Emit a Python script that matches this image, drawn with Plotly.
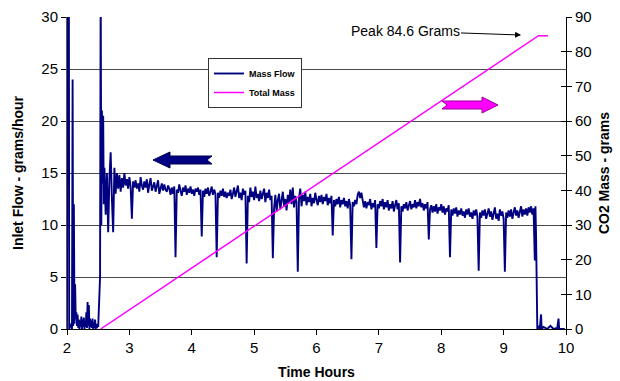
import plotly.graph_objects as go

# ---------------- data ----------------
# Mass flow, start-up phase (time h, grams/hour)
early_t = [2.00, 2.005, 2.03, 2.035, 2.06, 2.08, 2.09, 2.10, 2.11, 2.12, 2.13, 2.14, 2.15, 2.16,
           2.17, 2.18, 2.19, 2.20, 2.21, 2.22, 2.23, 2.24, 2.25, 2.26, 2.27, 2.28, 2.29, 2.30,
           2.31, 2.32, 2.33, 2.34, 2.35, 2.36, 2.37, 2.38, 2.39, 2.40, 2.41, 2.42, 2.43, 2.44,
           2.45, 2.46, 2.47, 2.48, 2.49, 2.50, 2.51, 2.52, 2.53, 2.54, 2.55, 2.56, 2.57, 2.58, 2.59]
early_v = [0, 34, 34, 0, 0.5, 0, 24, 0.3, 12, 0.5, 4.3, 1.0, 1.6, 0.3,
           1.4, 0.1, 0.9, 0, 0.8, 0.2, 1.2, 0, 0.9, 0.2, 1.1, 0, 0.7, 0.2,
           1.6, 0.1, 2.6, 0.3, 2.3, 0, 1.0, 0.2, 0.8, 0.1, 1.0, 0, 0.6, 0.1,
           0.9, 0, 0.5, 0.1, 0.4, 0.2, 1.5, 3.5, 5.0, 34, 10, 21, 14, 20.5, 12]

# Mass flow, steady phase, sampled every 0.02 h from 2.60 h to 9.50 h
main_start = 2.60
main_step = 0.02
main_v = [
    15.5, 11.0, 15.0, 9.3, 14.5, 17.0, 12.5, 9.3, 15.5, 13.0, 15.0, 13.5, 14.8, 13.2, 14.5, 13.6, 15.0, 13.8, 14.4, 13.5, 14.6, 13.7, 10.6, 14.2, 13.6,
    14.3, 13.5, 14.0, 13.2, 14.6, 13.8, 13.4, 14.2, 13.6, 14.4, 13.1, 13.9, 14.5, 13.3, 13.8, 14.1, 13.2, 13.7, 14.3, 13.0, 13.6, 14.0, 13.3, 13.9, 13.4,
    13.2, 13.8, 13.5, 12.9, 13.6, 13.0, 13.7, 6.9, 13.4, 13.1, 13.9, 13.3, 12.8, 13.6, 13.2, 13.8, 12.9, 13.5, 13.1, 13.7, 13.0, 13.4, 12.8, 13.5, 13.2,
    13.6, 12.9, 13.4, 8.9, 13.3, 12.7, 13.5, 13.0, 13.6, 12.8, 13.2, 13.7, 12.9, 13.4, 13.0, 6.9, 13.1, 12.6, 13.3, 12.8, 13.5, 12.7, 13.2, 12.6, 13.1,
    12.8, 13.4, 12.5, 13.0, 13.6, 12.7, 13.2, 13.8, 12.6, 13.1, 12.4, 13.5, 12.9, 13.3, 6.3, 12.8, 12.2, 13.6, 12.7, 13.2, 12.4, 13.7, 12.6, 13.0, 12.3,
    13.3, 12.5, 12.9, 13.5, 12.2, 13.1, 12.6, 13.4, 12.4, 12.8, 6.8, 11.6, 12.9, 11.3, 12.4, 13.0, 11.5, 12.6, 13.2, 11.8, 12.5, 11.4, 12.9, 12.1, 13.4,
    12.0, 13.6, 11.7, 12.8, 12.2, 5.5, 12.6, 13.5, 11.8, 12.9, 12.3, 13.2, 11.9, 12.7, 12.2, 13.0, 11.8, 12.6, 12.1, 13.1, 12.4, 11.9, 12.8, 12.2, 12.9,
    12.0, 12.7, 12.3, 13.0, 11.9, 12.6, 12.1, 12.8, 9.0, 12.4, 11.8, 12.5, 12.0, 12.7, 11.7, 12.4, 12.0, 12.6, 11.8, 12.3, 11.6, 12.5, 11.9, 6.7, 12.2,
    11.8, 12.4, 12.0, 12.9, 13.2, 12.6, 13.1, 12.2, 11.7, 12.3, 11.6, 12.2, 11.9, 12.5, 11.5, 12.1, 11.7, 12.4, 7.8, 12.0, 11.6, 12.3, 11.8, 12.5, 11.5,
    12.2, 11.7, 12.4, 11.4, 12.0, 11.6, 12.3, 11.3, 11.9, 12.4, 11.5, 12.1, 6.4, 11.8, 11.3, 12.0, 11.6, 12.2, 11.4, 11.9, 12.3, 11.5, 12.0, 11.7, 12.4,
    11.6, 12.2, 11.8, 12.5, 11.7, 12.1, 11.4, 12.0, 11.6, 12.2, 8.6, 11.5, 11.9, 11.2, 11.8, 11.3, 12.0, 11.1, 11.7, 11.4, 12.0, 11.2, 11.8, 11.0, 11.6,
    11.3, 11.9, 6.9, 11.5, 10.9, 11.6, 11.1, 11.7, 10.8, 11.4, 11.0, 11.6, 10.9, 11.3, 10.7, 11.5, 11.0, 11.6, 10.8, 11.2, 10.6, 11.4, 10.9, 11.5, 10.8,
    5.6, 11.2, 10.7, 11.4, 10.9, 11.5, 10.6, 11.1, 11.6, 10.8, 11.3, 10.5, 11.2, 11.7, 10.6, 11.1, 10.4, 11.5, 10.9, 11.3, 10.6, 5.5, 11.2, 10.7, 11.4,
    10.8, 11.5, 10.6, 11.2, 11.7, 10.9, 11.4, 10.7, 11.3, 11.8, 10.8, 11.5, 11.0, 11.6, 10.9, 11.7, 11.2, 11.8, 11.0, 11.6, 6.6,
]

# Mass flow, shut-down phase
late_t = [9.51, 9.52, 9.53, 9.54, 9.56, 9.58, 9.60, 9.61, 9.64, 9.70, 9.75, 9.80, 9.86, 9.88, 9.89, 9.98]
late_v = [11.8, 9.0, 3.0, 0, 0.3, 0, 1.4, 0, 0.2, 0, 0.3, 0, 0.1, 1.0, 0, 0]

# Total CO2 mass (grams)
mass_t = [2.54, 9.56, 9.71]
mass_v = [0, 84.6, 84.6]

x_ticks = [2, 3, 4, 5, 6, 7, 8, 9, 10]

# ---------------- build ----------------
main_t = [round(main_start + main_step * i, 2) for i in range(len(main_v))]
flow_t = early_t + main_t + late_t
flow_v = early_v + main_v + late_v

NAVY = "#000080"
MAG = "#FF00FF"
FONT = "Liberation Sans, Arial, sans-serif"

fig = go.Figure()
fig.add_trace(go.Scatter(x=flow_t, y=flow_v, mode="lines", name="<b>Mass Flow</b>",
                         line=dict(color=NAVY, width=1.9), yaxis="y"))
fig.add_trace(go.Scatter(x=mass_t, y=mass_v, mode="lines", name="<b>Total Mass</b>",
                         line=dict(color=MAG, width=1.5), yaxis="y2"))

L, R, T, B = 67, 54, 17, 52
W, H = 620, 381
pw, ph = W - L - R, H - T - B


def px(xp):
    return (xp - L) / pw


def py(yp):
    return (H - B - yp) / ph


def path(points):
    return "M " + " L ".join(f"{px(a):.4f},{py(b):.4f}" for a, b in points) + " Z"


left_arrow = [(153, 160), (170, 152), (170, 156), (212, 156), (207, 160), (212, 164), (170, 164), (170, 168)]
right_arrow = [(498, 105), (482, 97), (482, 101), (442, 101), (447, 105), (442, 109), (482, 109), (482, 113)]

fig.update_layout(
    width=W, height=H,
    margin=dict(l=L, r=R, t=T, b=B, autoexpand=False),
    paper_bgcolor="white", plot_bgcolor="white",
    font=dict(family=FONT, size=15, color="black"),
    showlegend=True,
    legend=dict(x=px(208), y=py(58), xanchor="left", yanchor="top",
                bgcolor="white", bordercolor="#333333", borderwidth=1,
                font=dict(size=9, family=FONT, color="black"),
                tracegroupgap=0, itemwidth=30),
    xaxis=dict(range=[2, 10], tickvals=x_ticks, ticks="outside", ticklen=5, tickcolor="black",
               showline=True, linecolor="black", linewidth=1, showgrid=False, zeroline=False,
               automargin=False,
               title=dict(text="<b>Time Hours</b>", font=dict(size=14), standoff=12),
               tickfont=dict(size=15)),
    yaxis=dict(range=[0, 30], dtick=5, ticks="outside", ticklen=5, tickcolor="black",
               showline=True, linecolor="#555555", linewidth=1,
               showgrid=True, gridcolor="#4a4a4a", gridwidth=1, zeroline=False,
               automargin=False,
               title=dict(text="<b>Inlet Flow - grams/hour</b>", font=dict(size=14), standoff=14),
               tickfont=dict(size=15)),
    yaxis2=dict(range=[0, 90], dtick=10, overlaying="y", side="right", anchor="x",
                ticks="outside", ticklen=5, tickcolor="black", automargin=False,
                showline=True, linecolor="black", linewidth=1, showgrid=False, zeroline=False,
                title=dict(text="<b>CO2 Mass - grams</b>", font=dict(size=14), standoff=8),
                tickfont=dict(size=15)),
    yaxis3=dict(range=[0, 90], dtick=10, overlaying="y", side="right", anchor="x",
                ticks="inside", ticklen=5, tickcolor="black", showticklabels=False,
                automargin=False, showline=False, showgrid=False, zeroline=False),
    shapes=[
        dict(type="path", xref="paper", yref="paper", path=path(left_arrow),
             fillcolor=NAVY, line=dict(color="#000050", width=1)),
        dict(type="path", xref="paper", yref="paper", path=path(right_arrow),
             fillcolor=MAG, line=dict(color="#990099", width=1)),
    ],
    annotations=[
        dict(x=9.28, y=84.8, xref="x", yref="y2", text="Peak 84.6 Grams",
             showarrow=True, arrowhead=2, arrowsize=1.2, arrowwidth=1, arrowcolor="black",
             ax=-116, ay=-4, font=dict(size=14, family=FONT, color="black")),
    ],
)
# invisible trace to activate yaxis3 (inner half of the right-axis cross ticks)
fig.add_trace(go.Scatter(x=[2], y=[0], yaxis="y3", mode="markers", marker=dict(opacity=0),
                         showlegend=False, hoverinfo="skip"))

fig.write_html("out.html")
